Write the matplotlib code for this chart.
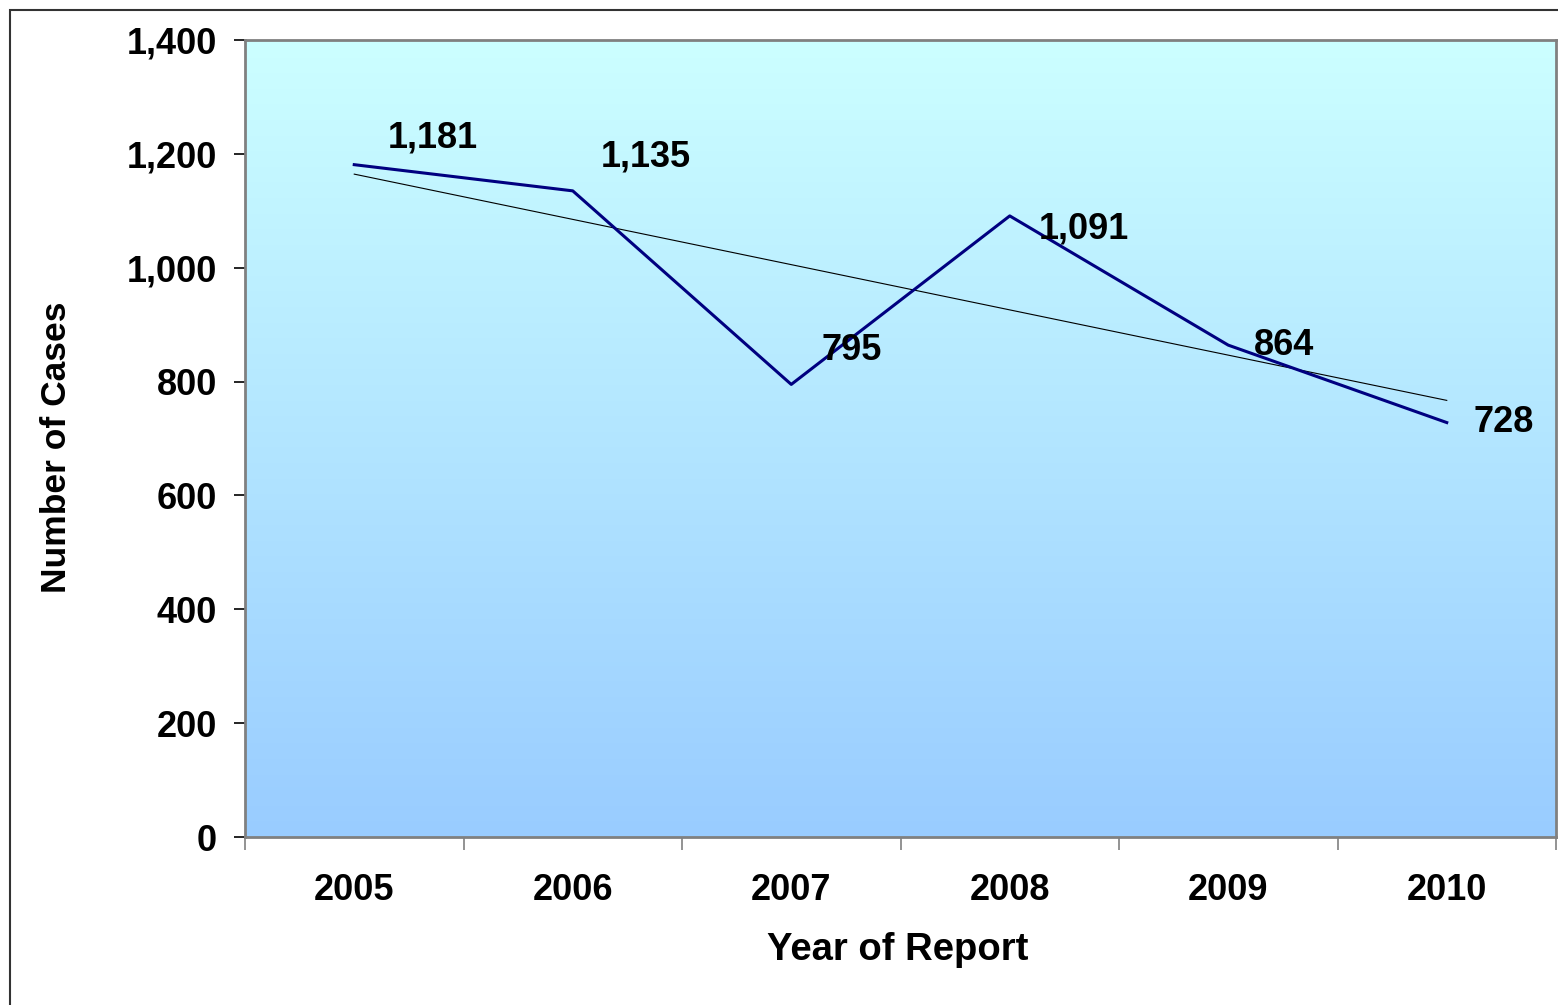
import matplotlib
matplotlib.use("Agg")
import matplotlib.pyplot as plt
import numpy as np
from matplotlib.colors import LinearSegmentedColormap
from matplotlib.patches import Rectangle
from matplotlib.ticker import FuncFormatter

years = ["2005", "2006", "2007", "2008", "2009", "2010"]
cases = [1181, 1135, 795, 1091, 864, 728]
label_offsets = [(34, 27), (28, 34), (30, 34), (29, -13), (26, 0), (27, 0)]

plt.rcParams['font.family'] = ['Liberation Sans', 'DejaVu Sans']
plt.rcParams['font.weight'] = 'bold'

W, H = 1558, 1005
fig = plt.figure(figsize=(W / 100, H / 100), dpi=100)
ax = fig.add_axes([245 / W, (H - 837) / H, 1311 / W, 797 / H])

# gradient background
cmap = LinearSegmentedColormap.from_list("bg", ["#99CCFF", "#CCFFFF"])
grad = np.linspace(0, 1, 256).reshape(-1, 1)
ax.imshow(grad, aspect='auto', cmap=cmap, origin='lower',
          extent=[0, 1, 0, 1], transform=ax.transAxes, zorder=0)

x = np.arange(len(years))
ax.plot(x, cases, color='#000080', lw=2.2, zorder=3)

# linear trend line
coef = np.polyfit(x, cases, 1)
ax.plot(x, np.polyval(coef, x), color='black', lw=0.8, zorder=2)

for xi, v, (dx, dy) in zip(x, cases, label_offsets):
    ax.annotate(f"{v:,}", (xi, v), xytext=(dx, dy), textcoords='offset pixels',
                ha='left', va='center', fontsize=26, fontweight='bold', zorder=4)

ax.set_xlim(-0.5, len(years) - 0.5)
ax.set_ylim(0, 1400)
ax.set_yticks(np.arange(0, 1401, 200))
ax.yaxis.set_major_formatter(FuncFormatter(lambda v, p: f"{int(v):,}"))
ax.tick_params(axis='y', direction='out', length=8, width=1.2, color='black',
               labelsize=26, pad=12)

ax.set_xticks(np.arange(-0.5, len(years), 1.0))
ax.set_xticklabels([])
ax.set_xticks(x, minor=True)
ax.set_xticklabels(years, minor=True)
ax.tick_params(axis='x', which='major', direction='out', length=9, width=1.2, color='#808080')
ax.tick_params(axis='x', which='minor', length=0, labelsize=26, pad=26)

for s in ax.spines.values():
    s.set_color('#808080')
    s.set_linewidth(2)

fig.text(898 / W, 1 - 950 / H, "Year of Report", fontsize=27.5, fontweight='bold',
         ha='center', va='center')
fig.text(57 / W, 1 - 447 / H, "Number of Cases", fontsize=25.5, fontweight='bold',
         ha='center', va='center', rotation=90)

# outer figure border
fig.patches.append(Rectangle((10 / W, -0.1), 1.2, (H - 10) / H + 0.1,
                             transform=fig.transFigure, fill=False,
                             edgecolor='#333333', lw=1.5))

fig.savefig("out.png", dpi=100)
